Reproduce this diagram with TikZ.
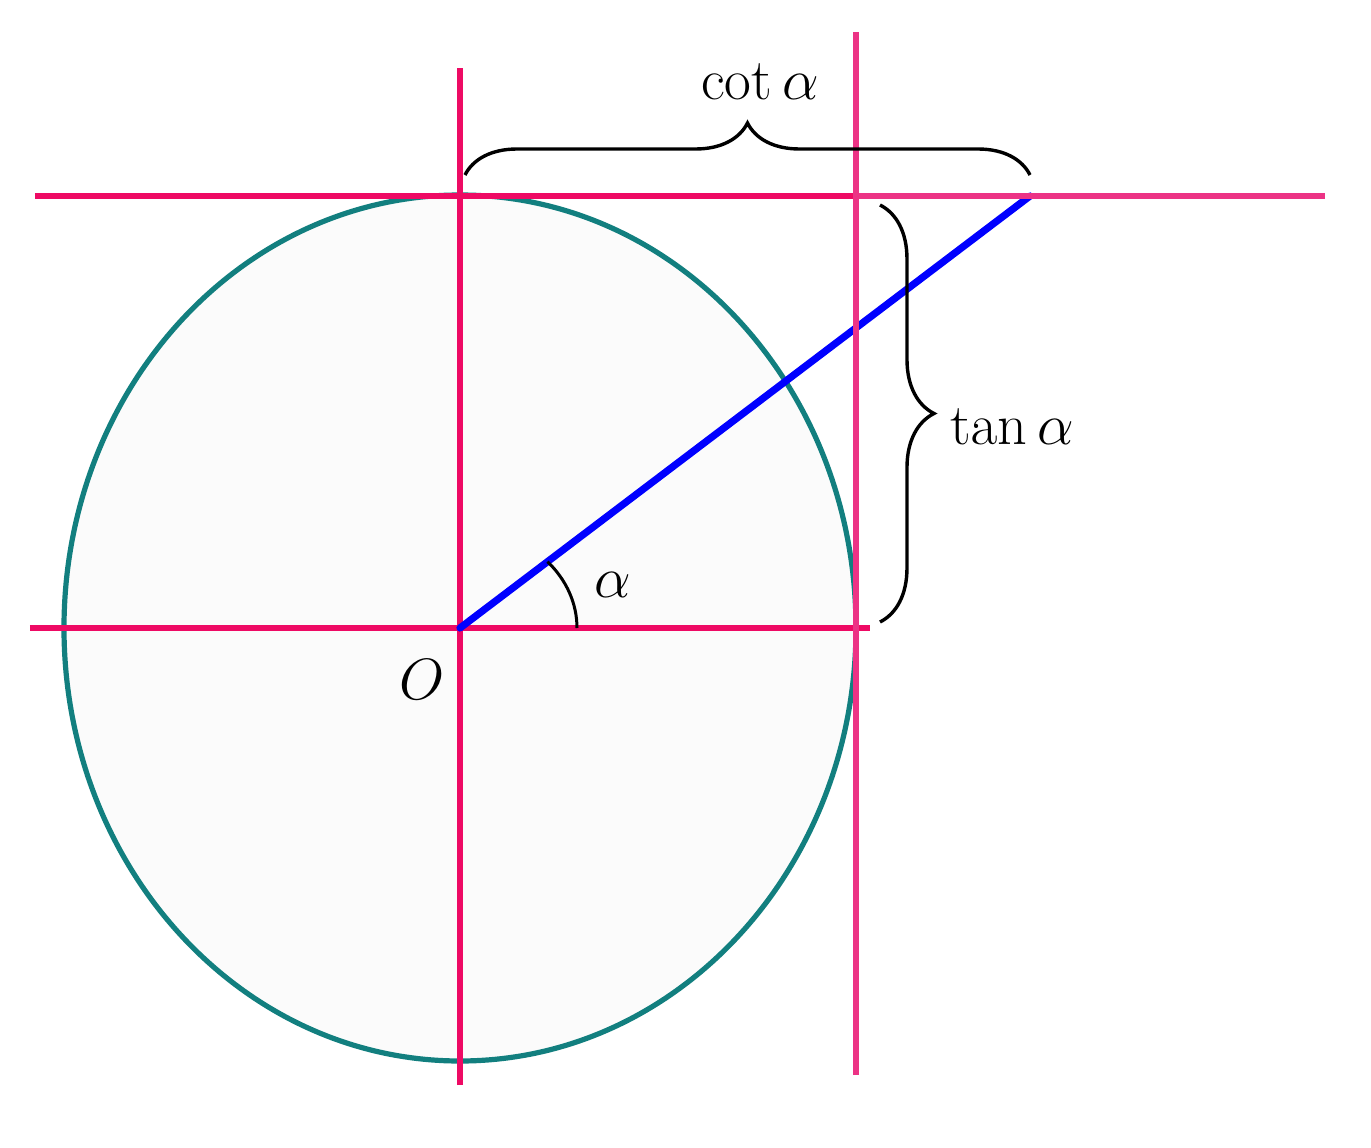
\documentclass[tikz,border=0pt]{standalone}
\usetikzlibrary{decorations.pathreplacing}

\definecolor{axisred}{HTML}{EE0A64}
\definecolor{tanpink}{HTML}{EC3385}
\definecolor{circleteal}{HTML}{127F7F}

\newcommand*\pxunit{0.5pt}
\newcommand*\rx{396}
\newcommand*\ry{433}
\tikzset{
    axisline/.style={draw=axisred, line width=2.6pt},
    tangentline/.style={draw=tanpink, line width=2.6pt},
    radiusline/.style={draw=blue, line width=3.6pt, line cap=round},
    curly/.style={decorate, decoration={brace, amplitude=#1}, line width=1.7pt},
    mathtext/.style={font=\Huge, scale=1.17, inner sep=0pt}
}

\begin{document}
\begin{tikzpicture}[x=\pxunit,y=\pxunit]

    % Fix the margins of the figure.
    \useasboundingbox (-460,-519) rectangle (911,628);

    % Some points.
    \coordinate (O) at (0,0);
    \coordinate (T) at (570,432);
    \coordinate (xl) at (-430,0);
    \coordinate (xr) at (410,0);
    \coordinate (yt) at (0,560);
    \coordinate (yb) at (0,-457);
    \coordinate (tl) at (-425,432);
    \coordinate (tm) at (\rx,432);
    \coordinate (tr) at (865,432);
    \coordinate (vt) at (\rx,596);
    \coordinate (vb) at (\rx,-447);

    % The circle.
    \draw[circleteal, line width=2.6pt, fill=black!1.5] (O) ellipse [x radius=\rx, y radius=\ry];

    % Draw the axes.
    \draw[axisline] (xl) -- (xr);
    \draw[axisline] (yb) -- (yt);

    % The radius and its angle.
    \draw[radiusline] (O) -- (T);
    \draw[line width=1.5pt] (117,0) arc[start angle=0, end angle=41.6, x radius=117, y radius=100];

    % Draw the tangent lines.
    \draw[axisline] (tl) -- (tm);
    \draw[tangentline] (tm) -- (tr);
    \draw[tangentline] (vb) -- (vt);

    % Braces.
    \draw[curly=26pt] (5,453) -- (570,453);
    \draw[curly=27pt] (420,423) -- (420,6);

    % Labels.
    \node[mathtext] (cot) at (300,546) {$\cot\alpha$};
    \node[mathtext] (tan) at (552,201) {$\tan\alpha$};
    \node[mathtext] (alpha) at (153,43) {$\alpha$};
    \node[mathtext] (origin) at (-38,-52) {$O$};

\end{tikzpicture}
\end{document}
